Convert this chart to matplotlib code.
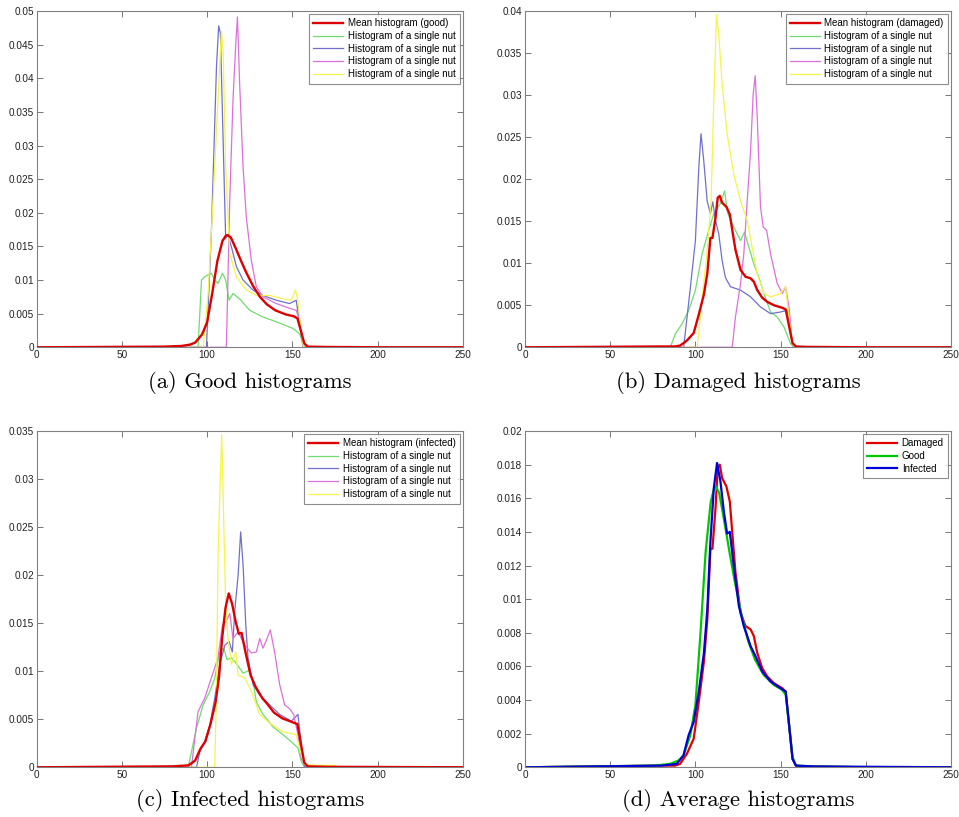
import matplotlib
matplotlib.use("Agg")
import matplotlib.pyplot as plt
from matplotlib.ticker import FuncFormatter

# ---------------- mean histograms ----------------
good_mean_x = [0, 75, 85, 90, 93, 97, 100, 103, 106, 109, 111, 112, 114, 117, 120, 123, 127, 131, 135,
               140, 146, 151, 153, 155, 157, 159, 170, 190, 200, 255]
good_mean_y = [0, 0.0001, 0.0002, 0.0004, 0.0007, 0.0019, 0.0037, 0.0080, 0.0128, 0.0158, 0.0166, 0.0167,
               0.0163, 0.0146, 0.0128, 0.0111, 0.0091, 0.0075, 0.0064, 0.0055, 0.0049, 0.0046, 0.0043,
               0.0025, 0.0006, 0.0001, 0.00005, 0.00002, 0, 0]

damaged_mean_x = [0, 80, 88, 91, 95, 99, 102, 105, 107, 108.8, 110, 111.8, 113.1, 114.3, 115.7, 118.2,
                  120.2, 121.6, 123.5, 126.5, 129.4, 132.4, 134.3, 136.3, 139.2, 142.2, 146.1, 151, 153,
                  155, 157, 159, 165, 200, 255]
damaged_mean_y = [0, 0.0001, 0.0001, 0.0002, 0.0008, 0.0017, 0.0039, 0.0063, 0.0088, 0.0130, 0.0130,
                  0.0154, 0.0178, 0.0180, 0.0172, 0.0167, 0.0158, 0.0140, 0.0116, 0.0092, 0.0084, 0.0082,
                  0.0078, 0.0068, 0.0059, 0.0054, 0.0050, 0.0047, 0.0045, 0.0025, 0.0005, 0.0001,
                  0.00005, 0, 0]

infected_mean_x = [0, 80, 89, 93, 96, 99, 102, 105, 107, 108.8, 110.8, 112.7, 114.7, 116.7, 118.6, 120.2,
                   122.5, 125.5, 128.4, 132.4, 135.3, 139.2, 144.1, 150, 153, 155, 157, 159, 170, 255]
infected_mean_y = [0, 0.0001, 0.0002, 0.0007, 0.0019, 0.0027, 0.0045, 0.0068, 0.0094, 0.0134, 0.0166,
                   0.0181, 0.0170, 0.0152, 0.0139, 0.0140, 0.0120, 0.0096, 0.0084, 0.0072, 0.0066,
                   0.0057, 0.0051, 0.0047, 0.0045, 0.0025, 0.0005, 0.0001, 0.00005, 0]

# ---------------- single nuts: good ----------------
good_n1_x = [0, 94.7, 96.7, 98.6, 102.5, 104.5, 106.4, 109, 110.9, 112.9, 115.2, 119.1, 125, 132.8, 140.6,
             150.4, 154.3, 157.2, 255]
good_n1_y = [0, 0, 0.0100, 0.0105, 0.0110, 0.0100, 0.0095, 0.0110, 0.0100, 0.0070, 0.0080, 0.0072, 0.0055,
             0.0045, 0.0038, 0.0028, 0.0020, 0, 0]
good_n2_x = [0, 99.6, 102.5, 105.5, 106.8, 107.8, 109.8, 110.9, 112.3, 114.3, 117.2, 121.1, 127, 132.8,
             140.6, 148.4, 152.3, 154.3, 156.3, 255]
good_n2_y = [0, 0, 0.0170, 0.0417, 0.0478, 0.0467, 0.0268, 0.0162, 0.0167, 0.0149, 0.0120, 0.0100, 0.0085,
             0.0077, 0.0070, 0.0065, 0.0070, 0.0035, 0, 0]
good_n3_x = [0, 111.3, 113.3, 115.2, 116.8, 117.8, 119.1, 121.1, 123, 125.9, 128.9, 132.8, 140.6, 148.4,
             152.3, 154.3, 156.3, 255]
good_n3_y = [0, 0, 0.0219, 0.0368, 0.0450, 0.0491, 0.0392, 0.0268, 0.0194, 0.0130, 0.0090, 0.0075, 0.0065,
             0.0058, 0.0055, 0.0040, 0, 0]
good_n4_x = [0, 97.7, 100.6, 103.5, 106.4, 108.4, 109.4, 110.9, 113.3, 117.2, 123, 128.9, 136.7, 144.5,
             149.4, 151.8, 153.3, 155.3, 156.6, 255]
good_n4_y = [0, 0, 0.0080, 0.0219, 0.0368, 0.0470, 0.0442, 0.0268, 0.0139, 0.0105, 0.0085, 0.0077, 0.0077,
             0.0072, 0.0070, 0.0085, 0.0070, 0.0020, 0, 0]

# ---------------- single nuts: damaged ----------------
dmg_n1_x = [0, 85.3, 88.2, 92.2, 96.1, 100, 103.9, 107.8, 110.8, 114.7, 117.1, 119, 122.5, 126.5, 128.8,
            131.4, 134.3, 137.3, 140.2, 144.1, 148, 152, 155.9, 157.8, 255]
dmg_n1_y = [0, 0, 0.0016, 0.0028, 0.0044, 0.0068, 0.0111, 0.0139, 0.0159, 0.0171, 0.0186, 0.0159, 0.0143,
            0.0127, 0.0137, 0.0119, 0.0099, 0.0083, 0.0064, 0.0042, 0.0036, 0.0024, 0.0004, 0, 0]
dmg_n2_x = [0, 93.1, 95.1, 97.1, 100, 102, 103.3, 104.9, 106.9, 108.8, 110.2, 111.8, 113.7, 115.7, 117.6,
            120.6, 126.5, 132.4, 138.2, 144.1, 150, 153.9, 155.9, 157.5, 255]
dmg_n2_y = [0, 0, 0.0036, 0.0072, 0.0127, 0.0214, 0.0254, 0.0222, 0.0174, 0.0159, 0.0173, 0.0151, 0.0135,
            0.0103, 0.0083, 0.0072, 0.0068, 0.0060, 0.0048, 0.0040, 0.0042, 0.0044, 0.0016, 0, 0]
dmg_n3_x = [0, 121.6, 123.5, 126.5, 128.4, 130.4, 132.4, 133.9, 135.1, 136.3, 138.2, 139.8, 141.8, 144.1,
            148, 151, 152.9, 154.9, 156.9, 158.2, 255]
dmg_n3_y = [0, 0, 0.0036, 0.0076, 0.0111, 0.0174, 0.0234, 0.0301, 0.0323, 0.0273, 0.0167, 0.0143, 0.0139,
            0.0111, 0.0076, 0.0064, 0.0072, 0.0048, 0.0004, 0, 0]
dmg_n4_x = [0, 101, 103.9, 106.9, 109.2, 110.8, 112.4, 113.7, 115.7, 118.6, 122.5, 126.5, 130.4, 133.3,
            136.3, 140.2, 144.1, 150, 152.9, 154.9, 156.9, 158, 255]
dmg_n4_y = [0, 0, 0.0056, 0.0115, 0.0174, 0.0293, 0.0396, 0.0372, 0.0313, 0.0254, 0.0206, 0.0174, 0.0151,
            0.0119, 0.0087, 0.0064, 0.0060, 0.0064, 0.0072, 0.0036, 0.0004, 0, 0]

# ---------------- single nuts: infected ----------------
inf_n1_x = [0, 88.9, 90.8, 93.8, 97.7, 101.6, 104.5, 107.4, 109.8, 111.7, 114.3, 117.2, 121.1, 125, 127,
            128.9, 132.8, 138.7, 144.5, 150.4, 153.3, 155.3, 157.2, 255]
inf_n1_y = [0, 0, 0.0016, 0.0041, 0.0065, 0.0079, 0.0093, 0.0120, 0.0124, 0.0112, 0.0114, 0.0108, 0.0098,
            0.0101, 0.0089, 0.0068, 0.0055, 0.0042, 0.0034, 0.0025, 0.0020, 0.0006, 0, 0]
inf_n2_x = [0, 93.8, 95.7, 98.6, 101.6, 104.5, 107.4, 110.4, 112.9, 114.8, 116.2, 118.2, 119.7, 121.1,
            122.7, 124, 127, 130.9, 136.7, 142.6, 149.4, 153.3, 155.3, 157.2, 255]
inf_n2_y = [0, 0, 0.0016, 0.0027, 0.0044, 0.0072, 0.0107, 0.0127, 0.0131, 0.0120, 0.0162, 0.0200, 0.0245,
            0.0211, 0.0148, 0.0114, 0.0086, 0.0075, 0.0065, 0.0055, 0.0048, 0.0055, 0.0023, 0, 0]
inf_n3_x = [0, 90.8, 92.8, 94.7, 98.6, 102.5, 106.4, 109, 111.3, 113.3, 115.2, 118.2, 122.1, 126, 128.9,
            130.9, 132.8, 135.2, 137.1, 139.6, 142.6, 145.5, 148.4, 150.8, 153.3, 155.3, 158.2, 255]
inf_n3_y = [0, 0, 0.0030, 0.0058, 0.0072, 0.0093, 0.0114, 0.0148, 0.0152, 0.0160, 0.0134, 0.0141, 0.0127,
            0.0119, 0.0120, 0.0134, 0.0124, 0.0134, 0.0143, 0.0120, 0.0086, 0.0065, 0.0061, 0.0055,
            0.0034, 0.0009, 0, 0]
inf_n4_x = [0, 104.5, 105.5, 106.4, 107.8, 108.6, 109.8, 110.9, 112.3, 114.3, 116.8, 118.2, 122.1, 126,
            130.9, 136.7, 144.5, 152.3, 155.3, 157.2, 165, 175, 177, 255]
inf_n4_y = [0, 0, 0.0079, 0.0218, 0.0305, 0.0346, 0.0252, 0.0169, 0.0134, 0.0107, 0.0120, 0.0096, 0.0093,
            0.0079, 0.0055, 0.0046, 0.0037, 0.0034, 0.0013, 0.0003, 0.0002, 0.0002, 0, 0]

# ---------------- labels ----------------
mean_labels = ["Mean histogram (good)", "Mean histogram (damaged)", "Mean histogram (infected)"]
single_label = "Histogram of a single nut"
avg_labels = ["Damaged", "Good", "Infected"]
captions = ["(a) Good histograms", "(b) Damaged histograms",
            "(c) Infected histograms", "(d) Average histograms"]
x_ticks = [0, 50, 100, 150, 200, 250]
y_limits = [0.05, 0.04, 0.035, 0.02]
y_steps = [0.005, 0.005, 0.005, 0.002]

nut_colors = ["#70dc70", "#7070cc", "#dc70dc", "#f4f44c"]
mean_color = "#dd0000"
avg_colors = ["#e00000", "#00c800", "#0000d8"]

tick_font = "Liberation Sans"

fig = plt.figure(figsize=(9.59, 8.17), dpi=100)

W, H = 959.0, 817.0
boxes = [(36.7, 11, 462.7, 347.3), (525, 11, 951, 347.3),
         (36.7, 431, 462.7, 767.3), (525, 431, 951, 767.3)]
axes = []
for (l, t, r, b) in boxes:
    axes.append(fig.add_axes([l / W, 1 - b / H, (r - l) / W, (b - t) / H]))


def style(ax, ymax, step):
    ax.set_xlim(0, 250)
    ax.set_ylim(0, ymax)
    ax.set_xticks(x_ticks)
    n = int(round(ymax / step))
    ax.set_yticks([i * step for i in range(n + 1)])
    ax.yaxis.set_major_formatter(FuncFormatter(lambda v, p: "%g" % round(v, 4)))
    ax.tick_params(direction="in", length=4, width=0.6, color="#606060",
                   top=True, right=True, labelsize=7.2, pad=2, labelcolor="#202020")
    for lab in ax.get_xticklabels() + ax.get_yticklabels():
        lab.set_fontfamily(tick_font)
    for sp in ax.spines.values():
        sp.set_color("#808080")
        sp.set_linewidth(0.8)


def legend(ax, handles, labels):
    leg = ax.legend(handles, labels, loc="upper right", prop={"family": tick_font, "size": 7.0},
                    frameon=True, fancybox=False, edgecolor="#707070", borderpad=0.45,
                    labelspacing=0.28, handlelength=3.1, handletextpad=0.45,
                    borderaxespad=0.3)
    leg.get_frame().set_linewidth(0.8)


panels = [
    (good_mean_x, good_mean_y, [(good_n1_x, good_n1_y), (good_n2_x, good_n2_y),
                                (good_n3_x, good_n3_y), (good_n4_x, good_n4_y)]),
    (damaged_mean_x, damaged_mean_y, [(dmg_n1_x, dmg_n1_y), (dmg_n2_x, dmg_n2_y),
                                      (dmg_n3_x, dmg_n3_y), (dmg_n4_x, dmg_n4_y)]),
    (infected_mean_x, infected_mean_y, [(inf_n1_x, inf_n1_y), (inf_n2_x, inf_n2_y),
                                        (inf_n3_x, inf_n3_y), (inf_n4_x, inf_n4_y)]),
]

for i, (mx, my, nuts) in enumerate(panels):
    ax = axes[i]
    hs = []
    for (nx, ny), c in zip(nuts, nut_colors):
        h, = ax.plot(nx, ny, color=c, lw=0.9, zorder=2)
        hs.append(h)
    hm, = ax.plot(mx, my, color=mean_color, lw=1.7, zorder=3)
    style(ax, y_limits[i], y_steps[i])
    legend(ax, [hm] + hs, [mean_labels[i]] + [single_label] * 4)

ax = axes[3]
hs = []
for (xs, ys), c in zip([(damaged_mean_x, damaged_mean_y), (good_mean_x, good_mean_y),
                        (infected_mean_x, infected_mean_y)], avg_colors):
    h, = ax.plot(xs, ys, color=c, lw=1.6)
    hs.append(h)
style(ax, y_limits[3], y_steps[3])
legend(ax, hs, avg_labels)

for ax, cap, yc in zip(axes, captions, [383, 383, 800, 800]):
    pos = ax.get_position()
    fig.text((pos.x0 + pos.x1) / 2, 1 - yc / H, cap, ha="center", va="center",
             family="cmr10", fontsize=16.3)

fig.savefig("out.png", dpi=100)
